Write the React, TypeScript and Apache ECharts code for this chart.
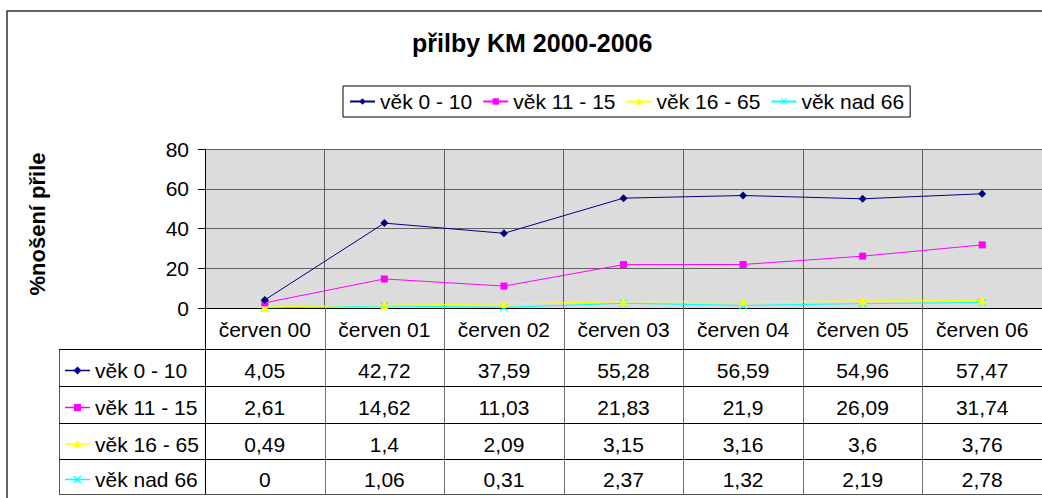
import React, { useEffect, useRef } from "react";
import * as echarts from "echarts";

const title = "přilby KM 2000-2006";
const yAxisTitle = "%nošení přile";
const categories = ["červen 00", "červen 01", "červen 02", "červen 03", "červen 04", "červen 05", "červen 06"];
const seriesNames = ["věk 0 - 10", "věk 11 - 15", "věk 16 - 65", "věk nad 66"];
const age0to10 = [4.05, 42.72, 37.59, 55.28, 56.59, 54.96, 57.47];
const age11to15 = [2.61, 14.62, 11.03, 21.83, 21.9, 26.09, 31.74];
const age16to65 = [0.49, 1.4, 2.09, 3.15, 3.16, 3.6, 3.76];
const ageOver66 = [0, 1.06, 0.31, 2.37, 1.32, 2.19, 2.78];
const yMin = 0;
const yMax = 80;
const yInterval = 20;

const seriesValues = [age0to10, age11to15, age16to65, ageOver66];
const seriesColors = ["#000080", "#ff00ff", "#ffff00", "#00ffff"];
const crossPath = "path://M1,0L5,4L9,0L10,1L6,5L10,9L9,10L5,6L1,10L0,9L4,5L0,1Z";
const seriesSymbols = ["diamond", "rect", "triangle", crossPath];
const seriesSymbolSizes = [8, 7, 8, 8];

const FONT = "'Liberation Sans', Arial, sans-serif";

export default function App() {
  const ref = useRef<HTMLDivElement>(null);

  useEffect(() => {
    document.body.style.margin = "0";
    const el = ref.current!;
    const chart = echarts.init(el, null, { renderer: "svg" });

    const gridLeft = 205;
    const gridTop = 149;
    const gridHeight = 159;
    const gridWidth = 845;

    chart.setOption({
      animation: false,
      backgroundColor: "#ffffff",
      textStyle: { fontFamily: FONT },
      title: {
        text: title,
        left: 412,
        top: 30,
        padding: 0,
        textStyle: { fontFamily: FONT, fontSize: 25, fontWeight: "bold", color: "#000" },
      },
      legend: {
        left: 343,
        top: 86,
        padding: [5, 6],
        borderColor: "#000",
        borderWidth: 1,
        itemWidth: 25,
        itemHeight: 8,
        itemGap: 10,
        textStyle: { fontFamily: FONT, fontSize: 21, color: "#000" },
        data: seriesNames,
      },
      grid: {
        left: gridLeft,
        top: gridTop,
        width: gridWidth,
        height: gridHeight,
        show: true,
        backgroundColor: "#dcdcdc",
        borderWidth: 0,
      },
      xAxis: {
        type: "category",
        data: categories,
        boundaryGap: true,
        axisLine: { show: true, lineStyle: { color: "#000", width: 1 } },
        axisTick: { show: false },
        axisLabel: { fontFamily: FONT, fontSize: 21, color: "#000", margin: 11, interval: 0 },
        splitLine: { show: true, interval: 0, lineStyle: { color: "#606060", width: 1 } },
      },
      yAxis: {
        type: "value",
        min: yMin,
        max: yMax,
        interval: yInterval,
        axisLine: { show: true, lineStyle: { color: "#000", width: 1 } },
        axisTick: { show: true, length: 7, lineStyle: { color: "#000" } },
        axisLabel: { fontFamily: FONT, fontSize: 21, color: "#000", margin: 16 },
        splitLine: { show: true, lineStyle: { color: "#606060", width: 1 } },
      },
      series: seriesNames.map((name, i) => ({
        name,
        type: "line",
        data: seriesValues[i],
        symbol: seriesSymbols[i],
        symbolSize: seriesSymbolSizes[i],
        lineStyle: { color: seriesColors[i], width: 1 },
        itemStyle: { color: seriesColors[i] },
        z: 10 - i,
      })),
    });

    // Data table beneath the plot
    const centers = categories.map((_, i) => chart.convertToPixel({ xAxisIndex: 0 }, i) as number);
    const catW = centers.length > 1 ? centers[1] - centers[0] : 120;
    const axisY = chart.convertToPixel({ yAxisIndex: 0 }, yMin) as number;
    const tableLeft = 59;
    const rowTops = [349, 386, 423, 459, 494];
    const rightEdge = 1100;
    const els: any[] = [];

    // outer chart border
    els.push({
      type: "rect",
      shape: { x: 7, y: 11, width: 1200, height: 700 },
      style: { fill: "none", stroke: "#333", lineWidth: 1.5 },
      silent: true,
      z: 0,
    });

    // vertical lines (category boundaries) from axis to table bottom
    for (let i = 0; i <= categories.length; i++) {
      const x = Math.round(centers[0] - catW / 2 + i * catW) + 0.5;
      els.push({
        type: "line",
        shape: { x1: x, y1: axisY, x2: x, y2: rowTops[rowTops.length - 1] },
        style: { stroke: i === 0 ? "#000" : "#707070", lineWidth: 1 },
        z: 5,
      });
    }
    // table left border
    els.push({
      type: "line",
      shape: { x1: tableLeft + 0.5, y1: rowTops[0], x2: tableLeft + 0.5, y2: rowTops[rowTops.length - 1] },
      style: { stroke: "#555", lineWidth: 1 },
      z: 5,
    });
    // horizontal lines
    rowTops.forEach((y, idx) => {
      els.push({
        type: "line",
        shape: { x1: tableLeft, y1: y + 0.5, x2: rightEdge, y2: y + 0.5 },
        style: { stroke: idx === rowTops.length - 1 ? "#555" : "#000", lineWidth: 1 },
        z: 5,
      });
    });

    seriesNames.forEach((name, r) => {
      const cy = (rowTops[r] + rowTops[r + 1]) / 2 + 3;
      const color = seriesColors[r];
      // legend key line
      els.push({
        type: "line",
        shape: { x1: 65, y1: cy, x2: 90, y2: cy },
        style: { stroke: color, lineWidth: 1.5 },
        z: 6,
      });
      const mx = 77.5;
      if (r === 0) {
        els.push({ type: "polygon", shape: { points: [[mx, cy - 4], [mx + 4, cy], [mx, cy + 4], [mx - 4, cy]] }, style: { fill: color }, z: 7 });
      } else if (r === 1) {
        els.push({ type: "rect", shape: { x: mx - 3.5, y: cy - 3.5, width: 7, height: 7 }, style: { fill: color }, z: 7 });
      } else if (r === 2) {
        els.push({ type: "polygon", shape: { points: [[mx, cy - 4], [mx + 4, cy + 3.5], [mx - 4, cy + 3.5]] }, style: { fill: color }, z: 7 });
      } else {
        els.push({ type: "line", shape: { x1: mx - 3.5, y1: cy - 3.5, x2: mx + 3.5, y2: cy + 3.5 }, style: { stroke: color, lineWidth: 1.3 }, z: 7 });
        els.push({ type: "line", shape: { x1: mx + 3.5, y1: cy - 3.5, x2: mx - 3.5, y2: cy + 3.5 }, style: { stroke: color, lineWidth: 1.3 }, z: 7 });
      }
      els.push({
        type: "text",
        x: 95,
        y: cy,
        style: { text: name, fontFamily: FONT, fontSize: 21, fill: "#000", align: "left", verticalAlign: "middle" },
        z: 7,
      });
      seriesValues[r].forEach((v, c) => {
        els.push({
          type: "text",
          x: centers[c],
          y: cy,
          style: {
            text: String(v).replace(".", ","),
            fontFamily: FONT,
            fontSize: 21,
            fill: "#000",
            align: "center",
            verticalAlign: "middle",
          },
          z: 7,
        });
      });
    });

    // y-axis title
    els.push({
      type: "text",
      x: 37,
      y: 224,
      rotation: Math.PI / 2,
      style: {
        text: yAxisTitle,
        fontFamily: FONT,
        fontSize: 22,
        fontWeight: "bold",
        fill: "#000",
        align: "center",
        verticalAlign: "middle",
      },
      z: 7,
    });

    chart.setOption({ graphic: { elements: els } });

    return () => chart.dispose();
  }, []);

  return (
    <div
      ref={ref}
      style={{ position: "fixed", left: 0, top: 0, width: 1042, height: 498, overflow: "hidden" }}
    />
  );
}
